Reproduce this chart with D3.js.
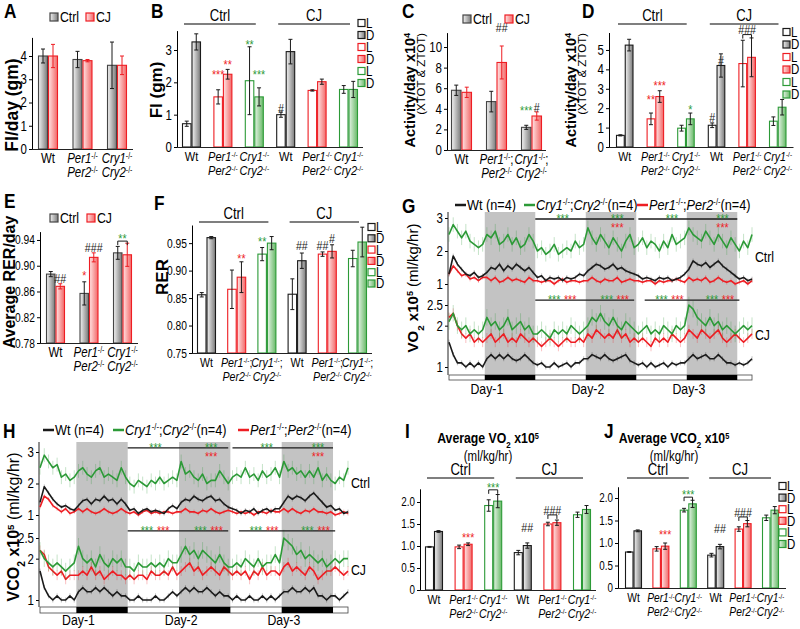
<!DOCTYPE html>
<html>
<head>
<meta charset="utf-8">
<script src="https://cdn.jsdelivr.net/npm/d3@7"></script>
<style>
  body { margin: 0; background: #fff; }
  svg text { font-family: "Liberation Sans", Arial, sans-serif; }
</style>
</head>
<body>
<svg id="fig" width="800" height="629"></svg>
<script>
(function() {

// ---- data ----
var genotypes = ['Wt', 'Per', 'Cry'],
    groups6 = genotypes.concat(genotypes);

// A: food intake per day (gm)
var fiDayCtrl = [4.0, 3.85, 3.6], fiDayCtrlErr = [0.3, 0.35, 1.0];
var fiDayCJ = [4.0, 3.8, 3.6], fiDayCJErr = [0.5, 0.05, 0.4];
// B: food intake, light / dark (Ctrl Wt, Per, Cry, CJ Wt, Per, Cry)
var fiLight = [0.72, 1.55, 2.05, 1.0, 1.75, 1.78], fiLightErr = [0.08, 0.22, 1.05, 0.08, 0.02, 0.12];
var fiDark = [3.25, 2.25, 1.55, 2.95, 2.02, 1.78], fiDarkErr = [0.25, 0.15, 0.28, 0.38, 0.08, 0.25];
// C: activity per day x10^4
var actCtrl = [5.8, 4.7, 2.2], actCtrlErr = [0.5, 1.0, 0.2];
var actCJ = [5.6, 8.5, 3.3], actCJErr = [0.5, 1.6, 0.4];
// D: activity light / dark
var actLight = [0.6, 1.45, 0.97, 1.12, 4.3, 1.33], actLightErr = [0.03, 0.3, 0.15, 0.12, 1.2, 0.22];
var actDark = [5.25, 2.6, 1.45, 4.2, 4.62, 2.05], actDarkErr = [0.3, 0.3, 0.3, 0.6, 1.0, 0.4];
// E: average RER per day
var rerCtrl = [0.887, 0.857, 0.920], rerCtrlErr = [0.004, 0.018, 0.01];
var rerCJ = [0.868, 0.913, 0.917], rerCJErr = [0.004, 0.007, 0.018];
// F: RER light / dark
var rerLight = [0.856, 0.866, 0.930, 0.857, 0.930, 0.922], rerLightErr = [0.004, 0.035, 0.012, 0.028, 0.004, 0.015];
var rerDark = [0.960, 0.888, 0.950, 0.918, 0.935, 0.952], rerDarkErr = [0.002, 0.028, 0.012, 0.014, 0.012, 0.027];
// I: average VO2 light / dark
var vo2Light = [0.98, 0.98, 1.92, 0.85, 1.50, 1.71], vo2LightErr = [0.01, 0.04, 0.13, 0.05, 0.04, 0.06];
var vo2Dark = [1.33, 1.04, 2.02, 1.01, 1.53, 1.83], vo2DarkErr = [0.02, 0.03, 0.15, 0.06, 0.06, 0.09];
// J: average VCO2 light / dark
var vco2Light = [0.80, 0.87, 1.73, 0.73, 1.31, 1.56], vco2LightErr = [0.01, 0.05, 0.04, 0.04, 0.05, 0.06];
var vco2Dark = [1.27, 0.93, 1.87, 0.92, 1.43, 1.73], vco2DarkErr = [0.02, 0.07, 0.08, 0.05, 0.07, 0.08];

// G / H: hourly traces over 3 days (hours 0..72)
var hours = d3.range(0, 73);
var darkPhases = [[8.5, 20.5], [32.5, 44.5], [56.5, 68.5]];
var dayLabels = ['Day-1', 'Day-2', 'Day-3'];
var tsNames = ['Wt', 'Cry', 'Per'];

var vo2CtrlWt = [1.3,1.85,1.6,1.45,1.3,1.25,1.35,1.2,1.25,
  1.35,1.5,1.45,1.6,1.4,1.55,1.45,1.6,1.5,1.4,1.5,1.35,
  1.2,1.25,1.1,1.2,1.15,1.2,1.1,1.2,1.15,1.2,1.3,1.25,
  1.4,1.5,1.6,1.55,1.45,1.5,1.6,1.45,1.5,1.4,1.35,1.3,
  1.25,1.15,1.2,1.15,1.1,1.2,1.15,1.2,1.1,1.15,1.2,1.3,
  1.45,1.7,1.6,1.55,1.65,1.5,1.6,1.7,1.55,1.45,1.35,1.25,
  1.15,1.2,1.1,1.15];
var vo2CtrlCry = [2.5,2.8,2.6,2.4,2.6,2.3,2.2,2.1,2.2,
  2.5,2.4,2.6,2.2,2.3,2.5,2.2,2.4,2.1,2.2,2.5,2.3,
  2.0,2.1,1.9,2.0,2.2,1.9,2.0,2.1,2.0,2.3,2.1,2.2,
  2.7,2.4,2.2,2.5,2.3,2.1,2.4,2.2,2.0,2.3,2.5,2.1,
  2.2,2.4,2.1,2.3,2.2,2.0,2.3,2.1,2.5,2.2,2.3,2.4,
  2.7,2.5,2.4,2.3,2.6,2.4,2.2,2.5,2.3,2.1,2.4,2.2,
  2.0,2.3,2.1,2.5];
var vo2CtrlPer = [1.3,1.55,1.4,1.25,1.3,1.15,1.2,1.1,1.2,
  1.2,1.1,1.2,1.05,1.1,1.2,1.1,1.15,1.1,1.05,1.2,1.1,
  1.1,1.05,1.1,1.1,1.0,1.1,1.15,1.05,1.1,1.1,1.05,1.1,
  1.1,1.2,1.1,1.05,1.15,1.1,1.1,1.2,1.05,1.1,1.15,1.1,
  1.1,1.05,1.1,1.1,1.0,1.1,1.05,1.1,1.1,1.15,1.1,1.05,
  1.2,1.1,1.15,1.1,1.2,1.05,1.1,1.2,1.1,1.05,1.1,1.0,
  1.05,1.1,1.0,1.1];
var vo2CJWt = [1.6,1.3,1.1,1.1,1.0,1.1,1.0,1.1,1.0,
  1.2,1.3,1.2,1.3,1.2,1.3,1.2,1.15,1.2,1.3,1.2,1.1,
  1.05,1.1,1.0,1.0,1.1,1.0,1.05,1.1,1.0,1.1,1.1,1.2,
  1.2,1.3,1.25,1.2,1.3,1.2,1.15,1.2,1.25,1.3,1.15,1.1,
  1.05,1.1,1.0,1.1,1.0,1.05,1.1,1.0,1.1,1.05,1.1,1.1,
  1.2,1.3,1.2,1.25,1.3,1.2,1.2,1.3,1.2,1.1,1.1,1.05,
  1.1,1.05,1.1,1.2];
var vo2CJCry = [2.1,2.3,2.0,1.9,2.0,1.8,1.9,1.8,1.9,
  2.2,2.0,2.1,1.9,2.0,2.2,1.9,2.0,2.1,1.9,2.0,1.8,
  1.8,1.9,1.8,1.7,1.9,1.8,1.9,1.8,2.0,1.9,1.8,1.9,
  2.0,2.2,2.1,2.3,2.1,2.0,2.2,2.0,1.9,2.1,2.0,1.9,
  1.8,1.9,2.0,1.8,1.9,1.8,2.0,1.9,1.8,2.0,1.9,2.0,
  2.5,2.4,2.2,2.1,2.0,2.2,2.0,2.1,1.9,2.0,1.9,1.8,
  1.9,2.0,1.9,2.0];
var vo2CJPer = [2.2,2.3,2.0,1.8,1.7,1.8,1.6,1.7,1.6,
  1.7,1.8,1.6,1.7,1.8,1.6,1.7,1.6,1.8,1.7,1.6,1.7,
  1.6,1.5,1.6,1.7,1.6,1.5,1.6,1.7,1.6,1.6,1.7,1.6,
  1.8,1.7,1.9,1.8,1.7,1.8,1.7,1.9,1.7,1.8,1.6,1.7,
  1.6,1.7,1.6,1.5,1.7,1.6,1.7,1.6,1.8,1.7,1.6,1.7,
  1.9,1.8,1.7,1.9,1.8,1.7,1.8,1.9,1.7,1.6,1.7,1.8,
  1.7,1.6,1.7,1.8];
var vo2CtrlErr = [0.07, 0.22, 0.07], vo2CJErr = [0.06, 0.2, 0.12];

var vco2CtrlWt = [1.4,1.9,1.7,1.5,1.35,1.25,1.3,1.2,1.15,
  1.3,1.45,1.5,1.35,1.5,1.45,1.6,1.45,1.5,1.35,1.5,1.35,
  1.15,1.2,1.05,1.15,1.2,1.1,1.15,1.1,1.05,1.2,1.3,1.2,
  1.4,1.5,1.45,1.6,1.5,1.45,1.55,1.6,1.45,1.5,1.35,1.25,
  1.2,1.15,1.05,1.15,1.1,1.2,1.05,1.15,1.2,1.1,1.2,1.2,
  1.4,1.6,1.5,1.6,1.55,1.45,1.6,1.7,1.55,1.4,1.25,1.3,
  1.15,1.2,1.05,1.1];
var vco2CtrlCry = [2.5,2.9,2.7,2.5,2.6,2.2,2.3,2.1,2.2,
  2.4,2.5,2.3,2.2,2.4,2.5,2.2,2.3,2.2,2.1,2.5,2.2,
  2.0,1.9,2.1,2.0,1.9,2.1,2.0,2.2,2.0,2.1,2.2,2.1,
  2.7,2.3,2.4,2.2,2.1,2.3,2.0,2.1,2.1,2.4,2.2,2.0,
  2.2,2.3,2.2,2.5,2.2,2.3,2.1,2.4,2.2,2.3,2.5,2.2,
  2.7,2.4,2.5,2.3,2.4,2.2,2.4,2.2,2.5,2.1,2.3,2.1,
  2.0,2.2,2.1,2.5];
var vco2CtrlPer = [1.25,1.6,1.5,1.3,1.2,1.1,1.2,1.05,1.1,
  1.2,1.1,1.2,1.1,1.05,1.1,1.2,1.1,1.05,1.1,1.2,1.1,
  1.05,1.1,1.0,1.1,1.15,1.05,1.1,1.05,1.1,1.1,1.05,1.1,
  1.1,1.2,1.1,1.1,1.05,1.15,1.1,1.2,1.1,1.05,1.1,1.15,
  1.1,1.05,1.1,1.05,1.1,1.0,1.1,1.1,1.05,1.15,1.1,1.1,
  1.2,1.1,1.2,1.1,1.05,1.15,1.1,1.2,1.1,1.1,1.05,1.1,
  1.0,1.05,1.1,1.05];
var vco2CJWt = [1.7,1.3,1.1,1.0,1.1,1.0,1.0,1.1,1.0,
  1.2,1.3,1.2,1.2,1.3,1.2,1.3,1.2,1.1,1.2,1.1,1.1,
  1.0,1.0,1.1,1.0,1.0,1.0,1.1,1.0,1.0,1.1,1.2,1.1,
  1.2,1.3,1.2,1.3,1.2,1.2,1.3,1.2,1.1,1.2,1.1,1.1,
  1.0,1.1,1.0,1.0,1.1,1.0,1.0,1.1,1.0,1.1,1.0,1.1,
  1.2,1.2,1.3,1.2,1.2,1.3,1.2,1.3,1.1,1.1,1.0,1.1,
  1.1,1.0,1.1,1.2];
var vco2CJCry = [2.2,2.0,1.9,1.8,1.9,1.8,1.7,1.8,1.9,
  2.3,2.0,1.9,2.0,1.8,2.1,1.9,1.8,2.0,1.9,2.0,1.8,
  1.8,1.7,1.9,1.8,1.8,1.9,1.8,1.9,1.8,2.0,1.9,1.9,
  2.1,2.3,2.1,2.2,2.0,2.2,2.1,2.0,1.9,2.1,1.9,1.8,
  1.8,1.9,1.8,2.0,1.9,1.8,2.0,1.8,1.9,1.9,2.1,1.9,
  2.5,2.4,2.3,2.1,2.2,2.0,2.1,2.0,1.9,2.0,1.8,1.9,
  2.0,1.9,2.0,2.0];
var vco2CJPer = [2.2,2.1,1.8,1.7,1.6,1.7,1.5,1.6,1.6,
  1.6,1.7,1.6,1.8,1.6,1.7,1.5,1.6,1.7,1.6,1.6,1.5,
  1.6,1.5,1.6,1.6,1.5,1.7,1.6,1.6,1.7,1.6,1.8,1.6,
  1.7,1.8,1.9,1.7,1.8,1.6,1.7,1.8,1.7,1.6,1.8,1.7,
  1.6,1.7,1.6,1.7,1.5,1.7,1.6,1.8,1.6,1.7,1.7,1.6,
  1.8,1.9,1.7,1.8,1.7,1.6,1.8,1.7,1.5,1.6,1.7,1.7,
  1.8,1.7,1.6,1.7];
var vco2CtrlErr = [0.07, 0.22, 0.07], vco2CJErr = [0.06, 0.2, 0.12];

// significance marks on the traces (hours)
var ctrlSigSpans = [[20.5, 44], [45, 68.5]], ctrlSigGreen = [27, 40, 53, 65], ctrlSigRed = [40, 65];
var cjSigSpans = [[20.5, 44], [46.5, 69]], cjSigGreen = [25, 37.5, 50.5, 62.5], cjSigRed = [28.8, 41.3, 54.3, 66.3];

// ---- drawing ----
var svg = d3.select('#fig');
var RED = '#ee1d23', GREEN = '#2c9a37', BLACK = '#1a1a1a';
var COL = { Wt: BLACK, Per: RED, Cry: GREEN };
var SQ = 0.82; // horizontal squeeze of the figure's lettering

var defs = svg.append('defs');
[['gGray', '#f2f2f2', '#7a7a7a'], ['gRed', '#ffe4e4', '#f26767'], ['gGreen', '#e4f3e4', '#68b968']].forEach(function(d) {
  var lg = defs.append('linearGradient').attr('id', d[0]);
  lg.append('stop').attr('offset', '0%').attr('stop-color', d[1]);
  lg.append('stop').attr('offset', '100%').attr('stop-color', d[2]);
});
var FILL = { Wt: 'url(#gGray)', Per: 'url(#gRed)', Cry: 'url(#gGreen)' };

// parts: [text, flags]  i italic, B bold, s superscript, b subscript
function addParts(t, parts) {
  parts.forEach(function(p) {
    var s = t.append('tspan').text(p[0]), f = p[1] || '';
    if (f.indexOf('i') >= 0) s.attr('font-style', 'italic');
    if (f.indexOf('B') >= 0) s.attr('font-weight', 'bold');
    if (f.indexOf('s') >= 0) s.attr('baseline-shift', 'super').attr('font-size', '60%');
    if (f.indexOf('b') >= 0) s.attr('baseline-shift', 'sub').attr('font-size', '65%');
  });
  return t;
}
function geno(k, semi) {
  var p = [[k, 'i'], ['-/-', 's']];
  if (semi) p.push([';', '']);
  return p;
}
function letter(t, x, y) {
  svg.append('text').attr('x', x).attr('y', y).attr('font-size', 21).attr('font-weight', 'bold').text(t);
}
function rotText(x, y, fs, parts, anchor) {
  var t = svg.append('text').attr('class', 'rot')
    .attr('transform', 'translate(' + x + ',' + y + ') rotate(-90)')
    .attr('text-anchor', anchor || 'middle').attr('font-size', fs);
  addParts(t, parts);
}
function ccLegend(bx, cy) {
  [['Ctrl', 'url(#gGray)', '#444'], ['CJ', 'url(#gRed)', RED]].forEach(function(it, i) {
    svg.append('rect').attr('x', bx[i]).attr('y', cy - 4).attr('width', 8).attr('height', 8)
      .attr('fill', it[1]).attr('stroke', it[2]).attr('stroke-width', 1.2);
    svg.append('text').attr('x', bx[i] + 10).attr('y', cy + 5.5).attr('font-size', 15).text(it[0]);
  });
}
function ldLegend(x, y0, dy) {
  var rows = [['Wt', 'L'], ['Wt', 'D'], ['Per', 'L'], ['Per', 'D'], ['Cry', 'L'], ['Cry', 'D']];
  rows.forEach(function(r, i) {
    var cy = y0 + i * dy;
    svg.append('rect').attr('x', x).attr('y', cy - 3.5).attr('width', 7).attr('height', 7)
      .attr('fill', r[1] === 'L' ? '#fff' : FILL[r[0]]).attr('stroke', COL[r[0]]).attr('stroke-width', 1.2);
    svg.append('text').attr('x', x + 8).attr('y', cy + 5).attr('font-size', 14).text(r[1]);
  });
}
function ldSeries(vL, eL, vD, eD) {
  return [
    { values: vL, err: eL, fill: function() { return '#fff'; }, stroke: function(i) { return COL[groups6[i]]; } },
    { values: vD, err: eD, fill: function(i) { return FILL[groups6[i]]; }, stroke: function(i) { return COL[groups6[i]]; } }
  ];
}
function ccSeries(vC, eC, vJ, eJ) {
  return [
    { values: vC, err: eC, fill: function() { return 'url(#gGray)'; }, stroke: function() { return '#444'; }, errCol: BLACK },
    { values: vJ, err: eJ, fill: function() { return 'url(#gRed)'; }, stroke: function() { return RED; }, errCol: RED }
  ];
}

function barPanel(o) {
  var n = o.groups.length;
  var po = (o.first - o.left) / o.step, pi = 1 - o.bw / o.step;
  var right = o.left + o.step * (n - pi + 2 * po);
  var x = d3.scaleBand().domain(d3.range(n)).range([o.left, right]).paddingInner(pi).paddingOuter(po);
  var xs = d3.scaleBand().domain(d3.range(o.series.length)).range([0, x.bandwidth()]);
  var y = d3.scaleLinear().domain(o.domain).range([o.bottom, o.top]);
  var g = svg.append('g');
  var bw = xs.bandwidth();

  o.series.forEach(function(s, si) {
    var cx = function(i) { return x(i) + xs(si) + bw / 2; };
    g.append('g').selectAll('rect').data(s.values).join('rect')
      .attr('x', function(d, i) { return x(i) + xs(si) + 0.5; })
      .attr('y', function(d) { return y(d); })
      .attr('width', bw - 1)
      .attr('height', function(d) { return o.bottom - y(d); })
      .attr('fill', function(d, i) { return s.fill(i); })
      .attr('stroke', function(d, i) { return s.stroke(i); })
      .attr('stroke-width', 1.1);
    var pairs = d3.zip(s.values, s.err);
    var eb = g.append('g').attr('stroke', s.errCol || BLACK).attr('stroke-width', 1);
    eb.selectAll('line.v').data(pairs).join('line').attr('class', 'v')
      .attr('x1', function(d, i) { return cx(i); }).attr('x2', function(d, i) { return cx(i); })
      .attr('y1', function(d) { return y(d[0] - d[1]); }).attr('y2', function(d) { return y(d[0] + d[1]); });
    [-1, 1].forEach(function(sg) {
      eb.selectAll('line.c' + (sg + 1)).data(pairs).join('line').attr('class', 'c' + (sg + 1))
        .attr('x1', function(d, i) { return cx(i) - 2; }).attr('x2', function(d, i) { return cx(i) + 2; })
        .attr('y1', function(d) { return y(d[0] + sg * d[1]); }).attr('y2', function(d) { return y(d[0] + sg * d[1]); });
    });
  });

  var ax = g.append('g').attr('transform', 'translate(' + o.left + ',0)')
    .call(d3.axisLeft(y).tickValues(o.ticks).tickFormat(o.fmt).tickSizeInner(3).tickSizeOuter(0).tickPadding(2));
  ax.attr('font-size', null).attr('font-family', null);
  ax.selectAll('text').attr('font-size', o.tickFs);
  g.append('line').attr('x1', o.left).attr('x2', right).attr('y1', o.bottom + 0.5).attr('y2', o.bottom + 0.5)
    .attr('stroke', '#222');

  o.groups.forEach(function(k, i) {
    var cx = x(i) + x.bandwidth() / 2;
    var t1 = g.append('text').attr('x', cx).attr('y', o.bottom + 14).attr('text-anchor', 'middle').attr('font-size', o.labFs);
    if (k === 'Wt') { t1.text('Wt'); return; }
    var t2 = g.append('text').attr('x', cx).attr('y', o.bottom + 28).attr('text-anchor', 'middle').attr('font-size', o.labFs);
    addParts(t1, geno(k + '1', o.semi));
    addParts(t2, geno(k + '2', false));
  });

  (o.headers || []).forEach(function(h) {
    var x1 = x(h.a) + 2, x2 = x(h.b) + x.bandwidth() - 8;
    g.append('line').attr('x1', x1).attr('x2', x2).attr('y1', o.headY).attr('y2', o.headY)
      .attr('stroke', '#555').attr('stroke-width', 1.5);
    g.append('text').attr('x', (x1 + x2) / 2).attr('y', o.headY - 2.5).attr('text-anchor', 'middle')
      .attr('font-size', 16).text(h.t);
  });

  (o.notes || []).forEach(function(nt) {
    var fs = 13, cx = x(nt.g) + bw * (nt.s + 0.5), cy = y(nt.v);
    var off = nt.t.indexOf('*') >= 0 ? 0.55 * fs : 0.36 * fs;
    g.append('text').attr('x', cx).attr('y', cy + off).attr('text-anchor', 'middle').attr('font-size', fs)
      .attr('fill', nt.c || BLACK).text(nt.t);
    if (nt.br) {
      var by = cy + 5, xa = x(nt.g) + bw / 2, xb = x(nt.g) + bw * 1.5;
      g.append('path').attr('d', 'M' + xa + ',' + (by + 4) + 'V' + by + 'H' + xb + 'V' + (by + 4))
        .attr('fill', 'none').attr('stroke', BLACK).attr('stroke-width', 1);
    }
  });
}

var HEADERS = [{ a: 0, b: 2, t: 'Ctrl' }, { a: 3, b: 5, t: 'CJ' }];
var fmtD = d3.format('d');
var fmtI = function(d) { return d === 0 ? '0' : d3.format('.1f')(d); };

// A
letter('A', 4, 18);
ccLegend([50, 86], 17);
rotText(18, 105, 17.5, [['FI/day (gm)', 'B']]);
barPanel({ left: 32, first: 38, step: 34.5, bw: 20, bottom: 149, top: 37.4, domain: [0, 4.8],
  ticks: [0, 1, 2, 3, 4], fmt: fmtD, tickFs: 14, labFs: 14, groups: genotypes,
  series: ccSeries(fiDayCtrl, fiDayCtrlErr, fiDayCJ, fiDayCJErr) });

// B
letter('B', 151, 18);
rotText(162, 90, 17, [['FI (gm)', 'B']]);
barPanel({ left: 177, first: 182, step: 31.4, bw: 19, bottom: 147, top: 30.6, domain: [0, 3.6],
  ticks: [0, 1, 2, 3], fmt: fmtD, tickFs: 14, labFs: 13.5, groups: groups6,
  series: ldSeries(fiLight, fiLightErr, fiDark, fiDarkErr), headers: HEADERS, headY: 24,
  notes: [{ g: 1, s: 0, t: '***', c: RED, v: 2.32 }, { g: 1, s: 1, t: '**', c: RED, v: 2.63 },
    { g: 2, s: 0, t: '**', c: GREEN, v: 3.25 }, { g: 2, s: 1, t: '***', c: GREEN, v: 2.32 },
    { g: 3, s: 0, t: '#', v: 1.2 }] });
ldLegend(358, 23, 12);

// C
letter('C', 402, 18);
ccLegend([463, 505], 19);
rotText(415, 33, 14.5, [['Activity/day x10', 'B'], ['4', 'Bs']], 'end');
rotText(425, 33, 11.5, [['(XTOT & ZTOT)', '']], 'end');
barPanel({ left: 447, first: 451, step: 35, bw: 21, bottom: 150, top: 32.6, domain: [0, 11.4],
  ticks: [0, 2, 4, 6, 8, 10], fmt: fmtD, tickFs: 14, labFs: 14, groups: genotypes, semi: true,
  series: ccSeries(actCtrl, actCtrlErr, actCJ, actCJErr),
  notes: [{ g: 1, s: 1, t: '##', v: 11.9 }, { g: 2, s: 0, t: '***', c: GREEN, v: 4.1 }, { g: 2, s: 1, t: '#', v: 4.1 }] });

// D
letter('D', 582, 18);
rotText(576, 33, 14.5, [['Activity/day x10', 'B'], ['4', 'Bs']], 'end');
rotText(586, 33, 11.5, [['(XTOT & ZTOT)', '']], 'end');
barPanel({ left: 609, first: 616, step: 30.6, bw: 17.5, bottom: 147, top: 32.5, domain: [0, 5.9],
  ticks: [0, 1, 2, 3, 4, 5], fmt: fmtD, tickFs: 14, labFs: 13, groups: groups6,
  series: ldSeries(actLight, actLightErr, actDark, actDarkErr), headers: HEADERS, headY: 24,
  notes: [{ g: 1, s: 0, t: '**', c: RED, v: 2.58 }, { g: 1, s: 1, t: '***', c: RED, v: 3.3 },
    { g: 2, s: 1, t: '*', c: GREEN, v: 2.06 }, { g: 3, s: 0, t: '#', v: 1.55 }, { g: 3, s: 1, t: '#', v: 4.48 },
    { g: 4, s: 0.5, t: '###', v: 6.05, br: true }] });
ldLegend(783, 32, 12.5);

// E
letter('E', 4, 208);
ccLegend([50, 87], 218);
rotText(15, 282, 16, [['Average RER/day', 'B']]);
barPanel({ left: 40, first: 46, step: 33.5, bw: 19, bottom: 343, top: 231.6, domain: [0.78, 0.953],
  ticks: [0.78, 0.82, 0.86, 0.90, 0.94], fmt: d3.format('.2f'), tickFs: 12.5, labFs: 14, groups: genotypes,
  series: ccSeries(rerCtrl, rerCtrlErr, rerCJ, rerCJErr),
  notes: [{ g: 0, s: 1, t: '##', v: 0.881 }, { g: 1, s: 0, t: '*', c: RED, v: 0.889 },
    { g: 1, s: 1, t: '###', v: 0.928 }, { g: 2, s: 0.5, t: '**', c: GREEN, v: 0.946, br: true }] });

// F
letter('F', 154, 210);
rotText(168, 277, 17, [['RER', 'B']]);
barPanel({ left: 192, first: 197, step: 30.2, bw: 19, bottom: 353, top: 225, domain: [0.75, 0.983],
  ticks: [0.75, 0.80, 0.85, 0.90, 0.95], fmt: d3.format('.2f'), tickFs: 12.5, labFs: 13, groups: groups6, semi: true,
  series: ldSeries(rerLight, rerLightErr, rerDark, rerDarkErr), headers: HEADERS, headY: 222,
  notes: [{ g: 1, s: 1, t: '**', c: RED, v: 0.926 }, { g: 2, s: 0, t: '**', c: GREEN, v: 0.957 },
    { g: 3, s: 1, t: '##', v: 0.946 }, { g: 4, s: 0, t: '##', v: 0.946 }, { g: 4, s: 1, t: '#', v: 0.959 }] });
ldLegend(368, 227, 11.3);

// G, H: traces
function tsLegend(xs, cy) {
  var items = [
    [BLACK, [['Wt (n=4)', '']]],
    [GREEN, [['Cry1', 'i'], ['-/-', 's'], [';', ''], ['Cry2', 'i'], ['-/-', 's'], ['(n=4)', '']]],
    [RED, [['Per1', 'i'], ['-/-', 's'], [';', ''], ['Per2', 'i'], ['-/-', 's'], ['(n=4)', '']]]
  ];
  items.forEach(function(it, i) {
    svg.append('line').attr('x1', xs[i]).attr('x2', xs[i] + 11).attr('y1', cy).attr('y2', cy)
      .attr('stroke', it[0]).attr('stroke-width', 2.5);
    addParts(svg.append('text').attr('x', xs[i] + 12).attr('y', cy + 5.5).attr('font-size', 15.5), it[1]);
  });
}

function tsPanel(o) {
  var g = svg.append('g');
  var x = d3.scaleLinear().domain([0, 72]).range([o.left, o.right]);
  var yC = d3.scaleLinear().domain([1, 3]).range(o.ctrlRange);
  var yJ = d3.scaleLinear().domain([1, 2.5]).range(o.cjRange);

  g.selectAll('rect.dk').data(darkPhases).join('rect').attr('class', 'dk')
    .attr('x', function(d) { return x(d[0]); }).attr('width', function(d) { return x(d[1]) - x(d[0]); })
    .attr('y', o.top).attr('height', o.barTop - o.top).attr('fill', '#c3c3c3');
  g.append('rect').attr('x', x(0)).attr('width', x(72) - x(0)).attr('y', o.barTop).attr('height', o.barH)
    .attr('fill', '#fff').attr('stroke', '#444').attr('stroke-width', 0.8);
  g.selectAll('rect.nb').data(darkPhases).join('rect').attr('class', 'nb')
    .attr('x', function(d) { return x(d[0]); }).attr('width', function(d) { return x(d[1]) - x(d[0]); })
    .attr('y', o.barTop).attr('height', o.barH).attr('fill', '#000');
  g.selectAll('text.day').data(dayLabels).join('text').attr('class', 'day')
    .attr('x', function(d, i) { return x(darkPhases[i][0] + 0.5); }).attr('y', o.dayY)
    .attr('text-anchor', 'middle').attr('font-size', 15).text(function(d) { return d; });

  [[yC, [1, 2, 3]], [yJ, [1, 2, 2.5]]].forEach(function(a) {
    var ax = g.append('g').attr('transform', 'translate(' + (o.left - 1) + ',0)')
      .call(d3.axisLeft(a[0]).tickValues(a[1]).tickFormat(function(d) { return String(d); }).tickSizeInner(3).tickSizeOuter(0).tickPadding(2));
    ax.select('.domain').remove();
    ax.attr('font-size', null).attr('font-family', null);
    ax.selectAll('text').attr('font-size', 14);
  });
  g.append('line').attr('x1', o.left - 1).attr('x2', o.left - 1).attr('y1', o.top).attr('y2', o.barTop)
    .attr('stroke', '#222');

  var order = [2, 0, 1]; // red, black, green on top
  [[o.ctrl, o.ctrlErr, yC], [o.cj, o.cjErr, yJ]].forEach(function(set) {
    order.forEach(function(k) {
      var vals = set[0][k], e = set[1][k], yy = set[2];
      var c = COL[tsNames[k]];
      var eg = g.append('g').attr('stroke', c).attr('stroke-opacity', 0.35).attr('stroke-width', 0.8);
      eg.selectAll('line').data(vals).join('line')
        .attr('x1', function(d, i) { return x(hours[i]); }).attr('x2', function(d, i) { return x(hours[i]); })
        .attr('y1', function(d) { return yy(d - e); }).attr('y2', function(d) { return yy(d + e); });
      g.append('path').datum(vals)
        .attr('d', d3.line().x(function(d, i) { return x(hours[i]); }).y(function(d) { return yy(d); }))
        .attr('fill', 'none').attr('stroke', c).attr('stroke-width', 1.6).attr('stroke-linejoin', 'round');
    });
  });

  // significance bars
  function sig(y0, spans, greens, reds, redBelow) {
    spans.forEach(function(s) {
      g.append('line').attr('x1', x(s[0])).attr('x2', x(s[1])).attr('y1', y0).attr('y2', y0)
        .attr('stroke', BLACK).attr('stroke-width', 1.3);
    });
    greens.forEach(function(t) {
      g.append('text').attr('x', x(t)).attr('y', y0 + 4).attr('text-anchor', 'middle').attr('font-size', 13)
        .attr('fill', GREEN).text('***');
    });
    reds.forEach(function(t) {
      g.append('text').attr('x', x(t)).attr('y', y0 + (redBelow ? 13 : 4)).attr('text-anchor', 'middle')
        .attr('font-size', 13).attr('fill', RED).text('***');
    });
  }
  sig(yC(o.ctrlSig), ctrlSigSpans, ctrlSigGreen, ctrlSigRed, true);
  sig(yJ(o.cjSig), cjSigSpans, cjSigGreen, cjSigRed, false);

  g.append('text').attr('x', o.right + 3).attr('y', o.ctrlLabY).attr('font-size', 15).text('Ctrl');
  g.append('text').attr('x', o.right + 3).attr('y', o.cjLabY).attr('font-size', 15).text('CJ');
}

letter('G', 402, 213);
tsLegend([455, 524, 637], 205);
rotText(418, 288, 15, [['VO', 'B'], ['2', 'Bb'], [' x10', 'B'], ['5', 'Bs'], [' (ml/kg/hr)', '']]);
tsPanel({ left: 449, right: 752, top: 212, barTop: 375, barH: 5, dayY: 394,
  ctrlRange: [284, 218], cjRange: [367, 305], ctrlSig: 2.97, cjSig: 2.62,
  ctrl: [vo2CtrlWt, vo2CtrlCry, vo2CtrlPer], ctrlErr: vo2CtrlErr,
  cj: [vo2CJWt, vo2CJCry, vo2CJPer], cjErr: vo2CJErr, ctrlLabY: 262, cjLabY: 340 });

letter('H', 3, 438);
tsLegend([43, 113, 238], 430);
rotText(19, 527, 16, [['VCO', 'B'], ['2', 'Bb'], [' x10', 'B'], ['5', 'Bs'], [' (ml/kg/hr)', '']]);
tsPanel({ left: 40, right: 348, top: 442, barTop: 607, barH: 6, dayY: 625,
  ctrlRange: [515, 452], cjRange: [600, 538], ctrlSig: 3.13, cjSig: 2.67,
  ctrl: [vco2CtrlWt, vco2CtrlCry, vco2CtrlPer], ctrlErr: vco2CtrlErr,
  cj: [vco2CJWt, vco2CJCry, vco2CJPer], cjErr: vco2CJErr, ctrlLabY: 488, cjLabY: 575 });

// I, J
function avgTitle(cx, gas) {
  addParts(svg.append('text').attr('x', cx).attr('y', 443).attr('text-anchor', 'middle').attr('font-size', 15),
    [['Average ' + gas, 'B'], ['2', 'Bb'], [' x10', 'B'], ['5', 'Bs']]);
  svg.append('text').attr('x', cx).attr('y', 461).attr('text-anchor', 'middle').attr('font-size', 14).text('(ml/kg/hr)');
}
letter('I', 405, 438);
avgTitle(488, 'VO');
barPanel({ left: 420, first: 425, step: 29.6, bw: 18, bottom: 590, top: 488.8, domain: [0, 2.3],
  ticks: [0, 0.5, 1, 1.5, 2], fmt: fmtI, tickFs: 12, labFs: 13, groups: groups6,
  series: ldSeries(vo2Light, vo2LightErr, vo2Dark, vo2DarkErr), headers: HEADERS, headY: 478,
  notes: [{ g: 1, s: 1, t: '***', c: RED, v: 1.25 }, { g: 2, s: 0.5, t: '***', c: GREEN, v: 2.39, br: true },
    { g: 3, s: 1, t: '##', v: 1.43 }, { g: 4, s: 0.5, t: '###', v: 1.82, br: true }] });

letter('J', 604, 438);
avgTitle(674, 'VCO');
barPanel({ left: 618, first: 625, step: 27.4, bw: 17, bottom: 588, top: 486.75, domain: [0, 2.25],
  ticks: [0, 0.5, 1, 1.5, 2], fmt: fmtI, tickFs: 12, labFs: 12.5, groups: groups6,
  series: ldSeries(vco2Light, vco2LightErr, vco2Dark, vco2DarkErr), headers: HEADERS, headY: 478,
  notes: [{ g: 1, s: 1, t: '***', c: RED, v: 1.24 }, { g: 2, s: 0.5, t: '***', c: GREEN, v: 2.13, br: true },
    { g: 3, s: 1, t: '##', v: 1.33 }, { g: 4, s: 0.5, t: '###', v: 1.69, br: true }] });
ldLegend(779, 486, 11.6);

// squeeze horizontal lettering around its anchor point
svg.selectAll('text').each(function() {
  var t = d3.select(this);
  if (t.classed('rot')) return;
  var x = +t.attr('x') || 0, y = +t.attr('y') || 0;
  t.attr('transform', 'translate(' + x + ',' + y + ') scale(' + SQ + ',1) translate(' + (-x) + ',' + (-y) + ')');
});

})();
</script>
</body>
</html>
